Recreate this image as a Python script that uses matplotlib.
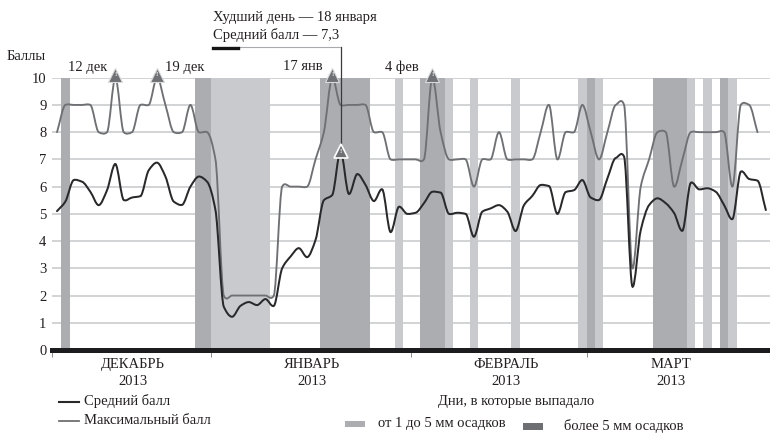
import matplotlib
matplotlib.use("Agg")
import numpy as np
import matplotlib.pyplot as plt
from matplotlib.path import Path
from matplotlib.patches import PathPatch, Rectangle
from matplotlib.lines import Line2D
from matplotlib.transforms import ScaledTranslation

plt.rcParams['font.family'] = ['Liberation Serif', 'DejaVu Serif']

avg_score = [5.1, 5.45, 6.24, 6.18, 5.81, 5.32, 5.87, 6.83, 5.51, 5.6,
             5.65, 6.6, 6.88, 6.37, 5.45, 5.33, 6.0, 6.37, 6.18, 5.14,
             1.59, 1.22, 1.62, 1.76, 1.65, 1.87, 1.62, 3.0, 3.43, 3.74,
             3.41, 4.04, 5.5, 5.69, 7.3, 5.73, 6.46, 6.06, 5.47, 5.9,
             4.33, 5.26, 5.0, 5.04, 5.39, 5.81, 5.78, 5.0, 5.04, 5.0,
             4.16, 5.08, 5.2, 5.32, 5.08, 4.37, 5.32, 5.66, 6.06, 6.02,
             5.0, 5.8, 5.87, 6.24, 5.6, 5.51, 6.3, 7.05, 7.1, 2.33,
             4.4, 5.32, 5.57, 5.39, 5.03, 4.38, 6.14, 5.9, 5.94, 5.81,
             5.32, 4.81, 6.55, 6.28, 6.22, 5.14]
max_score = [8, 9, 9, 9, 9, 8, 8, 10, 8, 8,
             9, 9, 10, 9, 8, 8, 9, 8, 8, 7,
             2, 2, 2, 2, 2, 2, 2, 6, 6, 6,
             6, 7, 8, 10, 9, 9, 9, 9, 8, 8,
             7, 7, 7, 7, 7, 10, 8, 7, 7, 7,
             6, 7, 7, 8, 7, 7, 7, 7, 8, 9,
             7, 8, 8, 9, 8, 7, 8, 9, 9, 3,
             6, 7, 8, 8, 6, 7, 8, 8, 8, 8,
             8, 6, 9, 9, 8]

light_rain_days = [19, 20, 21, 22, 23, 24, 25, 41, 47, 50, 55, 63, 65, 76, 78, 81]
heavy_rain_days = [1, 17, 18, 32, 33, 34, 35, 36, 37, 44, 45, 46, 64, 72, 73, 74, 75, 80]

month_names = ["ДЕКАБРЬ\n2013", "ЯНВАРЬ\n2013", "ФЕВРАЛЬ\n2013", "МАРТ\n2013"]
month_label_days = [9.1, 30.6, 53.9, 73.6]
month_edges = [-0.6, 18.5, 42.5, 63.5, 85.5]

peak_days = [7, 12, 33, 45]
peak_labels = ["12 дек", "19 дек", "17 янв", "4 фев"]
worst_day = 34

W, H = 770, 433
GRID = "#c6c7ca"
LIGHT = "#c9cacd"
MEDIUM = "#acadb0"
DARK_LINE = "#29292b"
GRAY_LINE = "#6f7073"
TXT = "#231f20"
FS = 10.5


def fx(x):
    return x / W


def fy(y):
    return 1 - y / H


def smooth_line(ax, days, values, color, lw):
    # bezier through the daily values, the source chart uses a smoothed line
    x = np.array(days, dtype=float)
    y = np.array(values, dtype=float)
    s = np.diff(y)
    m = np.zeros(len(y))
    m[0], m[-1] = s[0], s[-1]
    for i in range(1, len(y) - 1):
        if s[i - 1] * s[i] > 0:
            m[i] = 2 * s[i - 1] * s[i] / (s[i - 1] + s[i])
        else:
            m[i] = 0.3 * (s[i - 1] + s[i]) / 2
    verts = [(x[0], y[0])]
    codes = [Path.MOVETO]
    for i in range(len(y) - 1):
        verts.append((x[i] + 1 / 3, y[i] + m[i] / 3))
        verts.append((x[i + 1] - 1 / 3, y[i + 1] - m[i + 1] / 3))
        verts.append((x[i + 1], y[i + 1]))
        codes += [Path.CURVE4, Path.CURVE4, Path.CURVE4]
    ax.add_patch(PathPatch(Path(verts, codes), fill=False, edgecolor=color, lw=lw, zorder=4, capstyle='round'))


def fig_line(fig, xs, ys, color, lw):
    fig.add_artist(Line2D([fx(x) for x in xs], [fy(y) for y in ys], color=color, lw=lw))


def fig_swatch(fig, x0, x1, y0, y1, color):
    fig.add_artist(Rectangle((fx(x0), fy(y1)), (x1 - x0) / W, (y1 - y0) / H, color=color, lw=0, transform=fig.transFigure))


def fig_text(fig, x, y, s, **kw):
    fig.text(fx(x), fy(y), s, fontsize=FS, color=TXT, va='center', **kw)


fig = plt.figure(figsize=(W / 100, H / 100), dpi=100)
ax = fig.add_axes([52 / W, (H - 350) / H, 718 / W, 272.3 / H])
ax.set_xlim(month_edges[0], month_edges[-1])
ax.set_ylim(0, 10)

for spine in ['top', 'left', 'right']:
    ax.spines[spine].set_visible(False)
ax.spines['bottom'].set_linewidth(3.6)
ax.spines['bottom'].set_color("#1c1c1e")
ax.spines['bottom'].set_zorder(6)

ax.set_yticks(range(11))
ax.tick_params(axis='y', length=0, pad=4, labelsize=FS, labelcolor=TXT)
ax.grid(axis='y', color=GRID, lw=1.1, zorder=1)
ax.set_axisbelow(True)

ax.set_xticks(month_edges)
ax.set_xticklabels([])
ax.tick_params(axis='x', which='major', length=5, width=0.7, color="#8a8b8e")
ax.set_xticks(month_label_days, month_names, minor=True)
ax.tick_params(axis='x', which='minor', length=0, pad=6, labelsize=FS, labelcolor=TXT)
for lab in ax.get_xticklabels(minor=True):
    lab.set_linespacing(1.34)

for d in light_rain_days:
    ax.bar(d, 10, width=1, color=LIGHT, lw=0, zorder=2)
for d in heavy_rain_days:
    ax.bar(d, 10, width=1, color=MEDIUM, lw=0, zorder=2)

smooth_line(ax, np.arange(len(max_score)), max_score, GRAY_LINE, 1.35)
smooth_line(ax, np.arange(len(avg_score)), avg_score, DARK_LINE, 1.45)

# callout for the worst day
top_y = (350 - 47) / 27.23
ax.plot([worst_day, worst_day], [avg_score[worst_day], top_y], color="#3a3a3c", lw=0.9, clip_on=False, zorder=5)
fig_line(fig, [238, 340], [47, 47], "#a9aaad", 0.8)
fig_line(fig, [213, 238], [47.5, 47.5], "#151515", 2.4)

up = ax.transData + ScaledTranslation(0, 3 / 100, fig.dpi_scale_trans)
ax.plot(peak_days, [max_score[d] for d in peak_days], ls='none', marker='^', ms=10, mfc=GRAY_LINE,
        mec="#d9dadc", mew=0.8, clip_on=False, zorder=7, transform=up)
ax.plot([worst_day], [avg_score[worst_day]], ls='none', marker='^', ms=10.5, mfc=GRAY_LINE,
        mec="white", mew=1.2, clip_on=False, zorder=7)
for d in peak_days:
    ax.annotate("!", (d, 10), xytext=(0, 2), textcoords='offset points', ha='center', va='center',
                color="white", fontsize=5, fontweight='bold', zorder=8, annotation_clip=False)
ax.annotate("!", (worst_day, avg_score[worst_day]), xytext=(0, 0), textcoords='offset points', ha='center',
            va='center', color="white", fontsize=5, fontweight='bold', zorder=8)

for d, lab, x in zip(peak_days, peak_labels, [68, 165, 283, 385]):
    fig_text(fig, x, 67, lab)

fig_text(fig, 7, 57, "Баллы")
fig_text(fig, 213, 17, "Худший день — 18 января")
fig_text(fig, 213, 35, "Средний балл — 7,3")

# legend
fig_line(fig, [59, 79], [401.5, 401.5], DARK_LINE, 1.5)
fig_line(fig, [59, 79], [421, 421], GRAY_LINE, 1.3)
fig_text(fig, 84.5, 401.5, "Средний балл")
fig_text(fig, 84.5, 421, "Максимальный балл")
fig_text(fig, 438, 401.5, "Дни, в которые выпадало")
fig_swatch(fig, 345, 365, 420.5, 427, MEDIUM)
fig_text(fig, 378, 424, "от 1 до 5 мм осадков")
fig_swatch(fig, 523, 543, 423, 429.5, "#6e6f73")
fig_text(fig, 564, 426, "более 5 мм осадков")

fig.savefig("out.png", dpi=100)
